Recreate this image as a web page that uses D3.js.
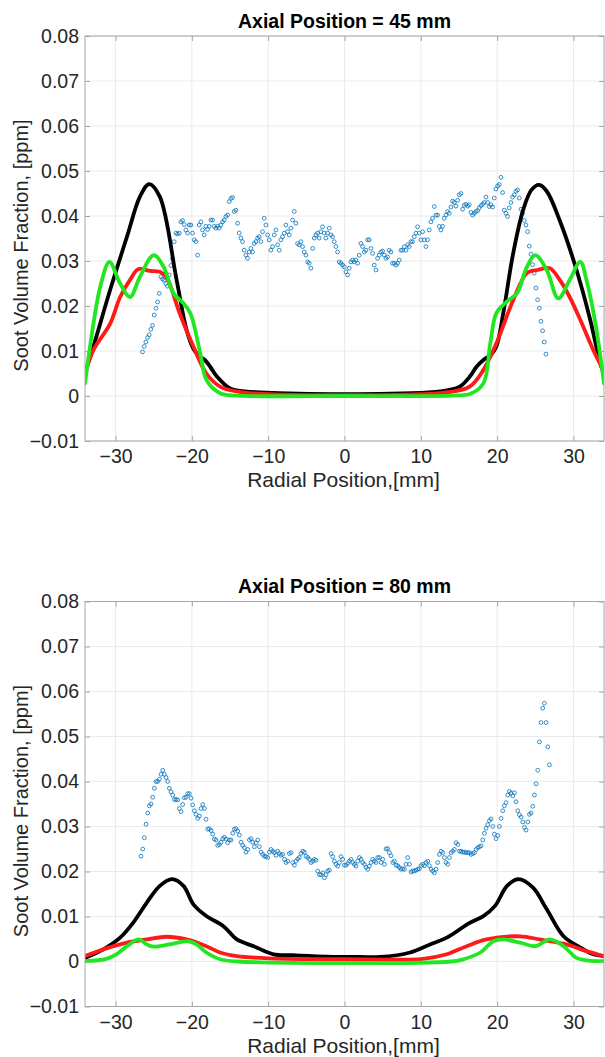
<!DOCTYPE html>
<html>
<head>
<meta charset="utf-8">
<script src="https://cdn.jsdelivr.net/npm/d3@7/dist/d3.min.js"></script>
<style>
  html, body { margin: 0; padding: 0; background: #fff; }
  svg text { font-family: "Liberation Sans", Arial, Helvetica, sans-serif; }
</style>
</head>
<body>
<svg id="chart" width="605" height="1057"></svg>
<script>
// ---- axis setup ----
const xTicks = [-30, -20, -10, 0, 10, 20, 30];
const yTicks = [-0.01, 0, 0.01, 0.02, 0.03, 0.04, 0.05, 0.06, 0.07, 0.08];
const xDomain = [-34, 34];
const yDomain = [-0.01, 0.08];
const panelTitles = ["Axial Position = 45 mm", "Axial Position = 80 mm"];
const xLabel = "Radial Position,[mm]";
const yLabel = "Soot Volume Fraction, [ppm]";

// ---- measured soot (open circles), sampled every 0.2184 mm ----
const sampleStep = 0.2184;
const measStart45 = -26.46;
const meas45 = [
  0.0098, 0.0110, 0.0120, 0.0130, 0.0136, 0.0148, 0.0157, 0.0180, 0.0195, 0.0209,
  0.0228, 0.0265, 0.0260, 0.0257, 0.0250, 0.0244, 0.0269, 0.0290, 0.0305,
  0.0343, 0.0362, 0.0360, 0.0362, 0.0387, 0.0390, 0.0381, 0.0369, 0.0362, 0.0380,
  0.0380, 0.0362, 0.0347, 0.0343, 0.0313, 0.0380, 0.0387, 0.0369, 0.0358, 0.0377,
  0.0370, 0.0377, 0.0391, 0.0391, 0.0377, 0.0373, 0.0377, 0.0373, 0.0380, 0.0387,
  0.0391, 0.0399, 0.0402, 0.0432, 0.0439, 0.0441, 0.0410, 0.0413, 0.0384, 0.0362,
  0.0351, 0.0343, 0.0324, 0.0313, 0.0306, 0.0320, 0.0328, 0.0320, 0.0339, 0.0343,
  0.0351, 0.0354, 0.0343, 0.0365, 0.0395, 0.0380, 0.0358, 0.0347, 0.0324, 0.0332,
  0.0358, 0.0369, 0.0336, 0.0324, 0.0347, 0.0354, 0.0362, 0.0380, 0.0365, 0.0358,
  0.0373, 0.0391, 0.0410, 0.0384, 0.0339, 0.0336, 0.0343, 0.0332, 0.0320, 0.0313,
  0.0298, 0.0295, 0.0284, 0.0328, 0.0351, 0.0358, 0.0362, 0.0351, 0.0365, 0.0376,
  0.0362, 0.0351, 0.0362, 0.0373, 0.0358, 0.0354, 0.0343, 0.0332, 0.0320, 0.0298,
  0.0295, 0.0291, 0.0287, 0.0276, 0.0269, 0.0284, 0.0298, 0.0302, 0.0298, 0.0302,
  0.0295, 0.0313, 0.0339, 0.0332, 0.0320, 0.0324, 0.0347, 0.0347, 0.0328, 0.0317,
  0.0291, 0.0280, 0.0306, 0.0313, 0.0320, 0.0322, 0.0313, 0.0306, 0.0309, 0.0324,
  0.0320, 0.0295, 0.0295, 0.0291, 0.0295, 0.0302, 0.0324, 0.0324, 0.0332, 0.0324,
  0.0336, 0.0332, 0.0343, 0.0343, 0.0354, 0.0362, 0.0376, 0.0362, 0.0347, 0.0365,
  0.0347, 0.0332, 0.0347, 0.0369, 0.0387, 0.0395, 0.0421, 0.0402, 0.0402, 0.0377,
  0.0369, 0.0377, 0.0395, 0.0402, 0.0410,
  0.0406, 0.0420, 0.0433, 0.0430, 0.0422, 0.0435, 0.0447, 0.0450, 0.0415, 0.0424,
  0.0426, 0.0422, 0.0425, 0.0408, 0.0402, 0.0406, 0.0410, 0.0412, 0.0418, 0.0423,
  0.0426, 0.0430, 0.0442, 0.0430, 0.0421, 0.0425, 0.0420, 0.0440, 0.0460, 0.0467,
  0.0470, 0.0486, 0.0452, 0.0413, 0.0406, 0.0399, 0.0418, 0.0430, 0.0442, 0.0447,
  0.0455, 0.0458, 0.0440, 0.0415, 0.0406, 0.0390, 0.0380, 0.0365, 0.0333, 0.0315,
  0.0292, 0.0273, 0.0240, 0.0214, 0.0195, 0.0166, 0.0145, 0.0120, 0.0093
];

const measStart80 = -26.66;
const meas80 = [
  0.0234, 0.0250, 0.0275, 0.0305, 0.0330, 0.0346, 0.0350, 0.0365, 0.0385,
  0.0400, 0.0400, 0.0405, 0.0416, 0.0425, 0.0416, 0.0409, 0.0400, 0.0385, 0.0377,
  0.0370, 0.0360, 0.0360, 0.0359, 0.0340, 0.0333, 0.0349, 0.0364, 0.0365, 0.0373,
  0.0373, 0.0363, 0.0348, 0.0335, 0.0327, 0.0318, 0.0323, 0.0340, 0.0349, 0.0340,
  0.0316, 0.0294, 0.0295, 0.0291, 0.0283, 0.0272, 0.0270, 0.0258, 0.0260, 0.0265,
  0.0273, 0.0276, 0.0272, 0.0264, 0.0270, 0.0270, 0.0285, 0.0294, 0.0295, 0.0290,
  0.0281, 0.0265, 0.0258, 0.0253, 0.0243, 0.0249, 0.0270, 0.0273, 0.0265, 0.0255,
  0.0264, 0.0270, 0.0255, 0.0243, 0.0238, 0.0234, 0.0233, 0.0231, 0.0243, 0.0249,
  0.0245, 0.0242, 0.0236, 0.0245, 0.0240, 0.0236, 0.0238, 0.0227, 0.0220, 0.0223,
  0.0240, 0.0242, 0.0220, 0.0214, 0.0223, 0.0228, 0.0231, 0.0240, 0.0245, 0.0243,
  0.0234, 0.0231, 0.0227, 0.0220, 0.0223, 0.0227, 0.0225, 0.0201, 0.0193, 0.0193,
  0.0197, 0.0186, 0.0193, 0.0201, 0.0203, 0.0240, 0.0233, 0.0223, 0.0216, 0.0212,
  0.0220, 0.0233, 0.0227, 0.0214, 0.0214, 0.0218, 0.0223,
  0.0227, 0.0220, 0.0216, 0.0212, 0.0223, 0.0231, 0.0227, 0.0220, 0.0216, 0.0209,
  0.0205, 0.0212, 0.0220, 0.0227, 0.0223, 0.0220, 0.0231,
  0.0231, 0.0220, 0.0227, 0.0216, 0.0250, 0.0251, 0.0242, 0.0235, 0.0220, 0.0223,
  0.0214, 0.0213, 0.0209, 0.0205, 0.0206, 0.0205, 0.0216, 0.0231, 0.0216, 0.0199,
  0.0201, 0.0201, 0.0203, 0.0205, 0.0206, 0.0213, 0.0216, 0.0213, 0.0220, 0.0223,
  0.0213, 0.0205, 0.0201, 0.0197, 0.0205, 0.0220, 0.0238, 0.0245, 0.0242, 0.0231,
  0.0220, 0.0216, 0.0231, 0.0242, 0.0245, 0.0249, 0.0264, 0.0260, 0.0245, 0.0245,
  0.0243, 0.0243, 0.0242, 0.0242, 0.0242, 0.0238, 0.0240, 0.0242, 0.0249, 0.0253,
  0.0255, 0.0257,
  0.0270, 0.0285, 0.0296, 0.0304, 0.0313, 0.0317, 0.0300, 0.0283, 0.0273, 0.0280,
  0.0300, 0.0318, 0.0335, 0.0346, 0.0353, 0.0370, 0.0378, 0.0374, 0.0368, 0.0375,
  0.0355, 0.0335, 0.0326, 0.0321, 0.0310, 0.0298, 0.0292, 0.0310, 0.0327, 0.0330,
  0.0345, 0.0370, 0.0395, 0.0425, 0.0488, 0.0531, 0.0563, 0.0574, 0.0531, 0.0477,
  0.0437
];

// ---- model profiles: [radial mm, soot ppm] ----
const black45 = [
  [-34, 0.0052], [-32.9, 0.0110], [-30.7, 0.0236], [-28.5, 0.0354], [-26.8, 0.0443],
  [-25.6, 0.0471], [-24.2, 0.0443], [-22.0, 0.0258], [-20.7, 0.0147], [-19.8, 0.0105],
  [-19.0, 0.0088], [-18.3, 0.0080], [-17.6, 0.0065], [-16.7, 0.0043], [-15.0, 0.0017],
  [-13.0, 0.0010], [-11.1, 0.0008], [-6, 0.0005], [0, 0.0004], [6, 0.0005],
  [11, 0.0008], [12.5, 0.0010], [15.1, 0.0021], [16.5, 0.0045], [17.3, 0.0065],
  [18.2, 0.0080], [19.2, 0.0092], [19.9, 0.0110], [20.8, 0.0184], [22.1, 0.0317],
  [23.4, 0.0413], [24.5, 0.0458], [25.5, 0.0469], [26.5, 0.0455], [28.2, 0.0390],
  [30.4, 0.0280], [32.2, 0.0169], [33.5, 0.0073], [34, 0.0050]
];
const red45 = [
  [-34, 0.0050], [-32.9, 0.0102], [-30.7, 0.0161], [-29.4, 0.0220], [-28.1, 0.0258],
  [-27.0, 0.0282], [-25.5, 0.0278], [-24.2, 0.0276], [-23.3, 0.0263], [-21.6, 0.0184],
  [-19.8, 0.0110], [-18.1, 0.0050], [-16.3, 0.0021], [-13.3, 0.0008], [-8, 0.0003],
  [0, 0.0002], [8, 0.0003], [13.3, 0.0008], [16.4, 0.0021], [18.2, 0.0058],
  [19.9, 0.0117], [22.1, 0.0213], [23.9, 0.0273], [25.3, 0.0280], [26.9, 0.0284],
  [28.2, 0.0258], [29.5, 0.0220], [30.9, 0.0169], [32.6, 0.0102], [34, 0.0055]
];
const green45 = [
  [-34, 0.0028], [-32.9, 0.0160], [-32.0, 0.0243], [-30.8, 0.0298], [-29.4, 0.0250],
  [-28.1, 0.0220], [-26.8, 0.0265], [-25.0, 0.0313], [-23.7, 0.0287], [-22.4, 0.0228],
  [-21.1, 0.0206], [-20.2, 0.0184], [-18.9, 0.0095], [-18.1, 0.0036], [-16.3, 0.0006],
  [-14, 0.0001], [0, 0.0000], [14, 0.0001], [16.5, 0.0005], [18.2, 0.0028],
  [19.1, 0.0117], [19.9, 0.0184], [21.3, 0.0210], [22.6, 0.0228], [23.9, 0.0287],
  [25.0, 0.0313], [26.5, 0.0280], [28.0, 0.0217], [29.5, 0.0258], [30.9, 0.0298],
  [31.7, 0.0258], [32.8, 0.0169], [34, 0.0028]
];
const black80 = [
  [-34, 0.0008], [-31.6, 0.0027], [-29.4, 0.0053], [-27.7, 0.0086], [-25.9, 0.0131],
  [-24.2, 0.0168], [-22.6, 0.0183], [-21.1, 0.0168], [-19.8, 0.0127], [-18.1, 0.0101],
  [-15.9, 0.0079], [-14.1, 0.0049], [-11.9, 0.0034], [-9.3, 0.0016], [-6.7, 0.0014],
  [-2.3, 0.0011], [2, 0.0010], [4.65, 0.0010], [8.6, 0.0020], [11.2, 0.0038],
  [13.4, 0.0053], [16.4, 0.0086], [18.2, 0.0101], [19.7, 0.0123], [21.3, 0.0168],
  [22.8, 0.0183], [24.7, 0.0164], [26.5, 0.0116], [28.7, 0.0056], [30.9, 0.0031],
  [32.6, 0.0016], [34, 0.0012]
];
const red80 = [
  [-34, 0.0012], [-31.6, 0.0027], [-28.5, 0.0042], [-25.9, 0.0049], [-23.3, 0.0055],
  [-20.7, 0.0049], [-18.1, 0.0034], [-16.3, 0.0020], [-14.1, 0.0012], [-10, 0.0007],
  [0, 0.0005], [10.3, 0.0006], [13.4, 0.0016], [16.0, 0.0034], [18.6, 0.0049],
  [23.0, 0.0056], [25.6, 0.0049], [29.1, 0.0038], [31.7, 0.0023], [34, 0.0012]
];
const green80 = [
  [-34, 0.0001], [-31.2, 0.0006], [-29.9, 0.0016], [-28.5, 0.0034], [-27.0, 0.0049],
  [-25.9, 0.0038], [-25.1, 0.0033], [-22.9, 0.0038], [-20.5, 0.0045], [-19.4, 0.0038],
  [-18.1, 0.0020], [-16.3, 0.0005], [-14, 0.0000], [14, 0.0000], [15.6, 0.0005],
  [17.8, 0.0020], [19.5, 0.0045], [20.8, 0.0049], [23.0, 0.0042], [25.0, 0.0034],
  [26.9, 0.0049], [28.7, 0.0034], [30.4, 0.0008], [32, 0.0002], [34, 0.0001]
];

const panels = [
  { title: panelTitles[0], start: measStart45, meas: meas45, lines: [black45, red45, green45] },
  { title: panelTitles[1], start: measStart80, meas: meas80, lines: [black80, red80, green80] }
];
const lineColors = ["#000000", "#ff1a1a", "#22e622"];

// ---- layout ----
const W = 605;
const margin = { left: 85, right: 1 };
const plotTops = [36, 601.5];
const plotH = 405;
const svg = d3.select("#chart");

const x = d3.scaleLinear().domain(xDomain).range([margin.left, W - margin.right]);

panels.forEach((p, i) => {
  const top = plotTops[i];
  const y = d3.scaleLinear().domain(yDomain).range([top + plotH, top]);
  const g = svg.append("g");
  const x0 = x.range()[0], x1 = x.range()[1];
  const yb = top + plotH;

  // grid
  g.append("g").selectAll("line.gx").data(xTicks).join("line")
    .attr("x1", d => x(d)).attr("x2", d => x(d)).attr("y1", top).attr("y2", yb)
    .attr("stroke", "#ebebeb").attr("stroke-width", 1);
  g.append("g").selectAll("line.gy").data(yTicks).join("line")
    .attr("x1", x0).attr("x2", x1).attr("y1", d => y(d)).attr("y2", d => y(d))
    .attr("stroke", "#ebebeb").attr("stroke-width", 1);

  // clip for data
  const clipId = "clip" + i;
  svg.append("clipPath").attr("id", clipId).append("rect")
    .attr("x", x0).attr("y", top).attr("width", x1 - x0).attr("height", plotH);
  const data = g.append("g").attr("clip-path", `url(#${clipId})`);

  // measured soot
  data.append("g").selectAll("circle").data(p.meas).join("circle")
    .attr("cx", (d, k) => x(p.start + k * sampleStep))
    .attr("cy", d => y(d))
    .attr("r", 1.9)
    .attr("fill", "none")
    .attr("stroke", "#0072BD")
    .attr("stroke-width", 0.8);

  // model profiles
  const line = d3.line().x(d => x(d[0])).y(d => y(d[1])).curve(d3.curveCatmullRom.alpha(0.5));
  p.lines.forEach((ln, k) => {
    data.append("path").datum(ln).attr("d", line)
      .attr("fill", "none").attr("stroke", lineColors[k])
      .attr("stroke-width", 3.8).attr("stroke-linejoin", "round").attr("stroke-linecap", "round");
  });

  // box
  g.append("rect").attr("x", x0).attr("y", top).attr("width", x1 - x0).attr("height", plotH)
    .attr("fill", "none").attr("stroke", "#a6a6a6").attr("stroke-width", 1);

  // axes with inward ticks
  const axB = d3.axisBottom(x).tickValues(xTicks).tickSize(-5).tickPadding(8.5).tickFormat(d3.format("d"));
  const axT = d3.axisTop(x).tickValues(xTicks).tickSize(-5).tickFormat("");
  const axL = d3.axisLeft(y).tickValues(yTicks).tickSize(-5).tickPadding(6).tickFormat(d => d === 0 ? "0" : d3.format(".2f")(d));
  const axR = d3.axisRight(y).tickValues(yTicks).tickSize(-5).tickFormat("");
  [
    g.append("g").attr("transform", `translate(0,${yb})`).call(axB),
    g.append("g").attr("transform", `translate(0,${top})`).call(axT),
    g.append("g").attr("transform", `translate(${x0},0)`).call(axL),
    g.append("g").attr("transform", `translate(${x1},0)`).call(axR)
  ].forEach(a => {
    a.select(".domain").remove();
    a.selectAll(".tick line").attr("stroke", "#a6a6a6");
    a.selectAll("text").attr("fill", "#262626").style("font-size", "19.5px")
      .style("font-family", "'Liberation Sans', Arial, sans-serif");
  });

  // title
  g.append("text").attr("x", (x0 + x1) / 2).attr("y", top - 8.5)
    .attr("text-anchor", "middle").attr("font-weight", "bold")
    .style("font-size", "19.5px").attr("fill", "#000").text(p.title);

  // x label
  g.append("text").attr("x", (x0 + x1) / 2 - 1).attr("y", yb + 46)
    .attr("text-anchor", "middle").style("font-size", "21px").attr("fill", "#262626").text(xLabel);

  // y label
  g.append("text").attr("transform", `translate(28,${top + plotH / 2 + 7}) rotate(-90)`)
    .attr("text-anchor", "middle").style("font-size", "20px").attr("fill", "#262626").text(yLabel);
});
</script>
</body>
</html>
